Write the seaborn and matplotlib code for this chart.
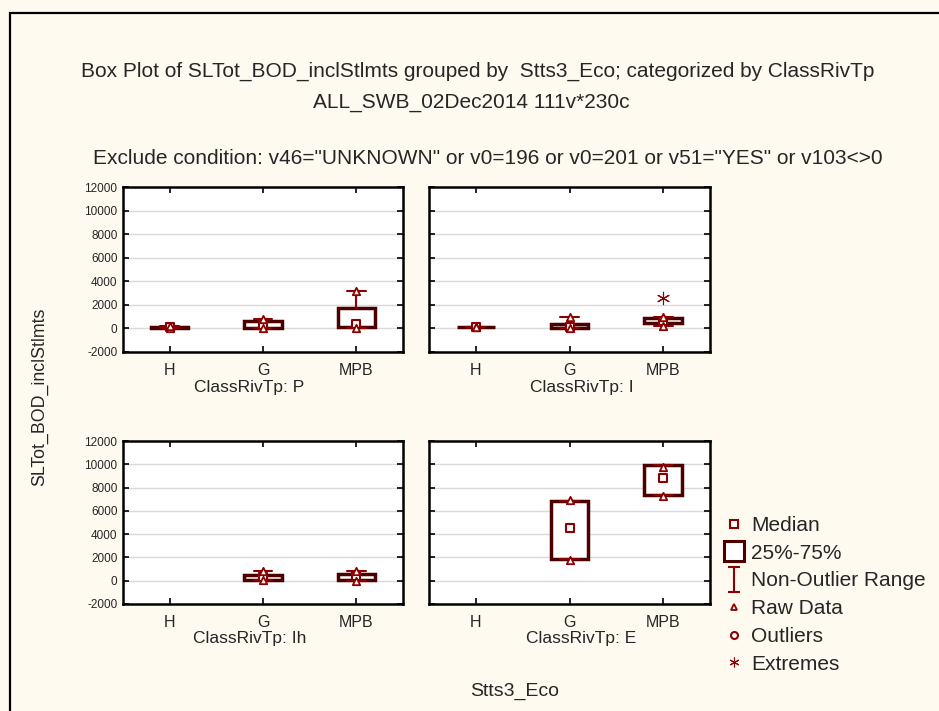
import numpy as np
import matplotlib
matplotlib.use('Agg')
import matplotlib.pyplot as plt
import seaborn as sns
import pandas as pd
from matplotlib.lines import Line2D
from matplotlib.patches import Rectangle
from matplotlib.path import Path

# data (Statistica style box plot)
categories = ['H', 'G', 'MPB']
panels = ['P', 'I', 'Ih', 'E']
nan = np.nan
median = [[100, 300, 400], [100, 150, 650], [nan, 300, 400], [nan, 4500, 8800]]
q1 = [[20, 30, 100], [80, 20, 480], [nan, 100, 50], [nan, 1850, 7350]]
q3 = [[150, 600, 1735], [130, 350, 860], [nan, 520, 580], [nan, 6850, 9950]]
whis_lo = [[0, 0, 0], [80, 0, 200], [nan, 50, 0], [nan, 1850, 7350]]
whis_hi = [[200, 800, 3150], [130, 950, 950], [nan, 800, 850], [nan, 6850, 9950]]
raw_min = [[0, 0, 0], [80, 0, 200], [nan, 50, 0], [nan, 1800, 7300]]
raw_max = [[200, 800, 3150], [130, 950, 950], [nan, 800, 850], [nan, 6900, 9800]]
extremes = [[], [], [], []]
extremes[1] = [('MPB', 2550)]

yticks = list(range(-2000, 12001, 2000))

box_col = '#4d0000'
red = '#8b0000'
bg = '#fffaf0'

sns.set_style('ticks')
plt.rcParams['font.family'] = ['Liberation Sans', 'DejaVu Sans']

fig = plt.figure(figsize=(9.39, 7.11), dpi=100, facecolor=bg)
W, H = 939, 711


def ax_rect(x0, y0, x1, y1):
    return [x0 / W, 1 - y1 / H, (x1 - x0) / W, (y1 - y0) / H]


rects = [ax_rect(123, 187, 403, 352), ax_rect(429, 187, 710, 352),
         ax_rect(123, 441, 403, 604), ax_rect(429, 441, 710, 604)]
title_pos = [(249, 388), (582, 388), (250, 638), (581, 638)]

asterisk = (6, 2, 0)

for i, p in enumerate(panels):
    ax = fig.add_axes(rects[i])
    ax.set_facecolor('white')
    stats, pos = [], []
    for j, c in enumerate(categories):
        if np.isnan(median[i][j]):
            continue
        stats.append(dict(med=median[i][j], q1=q1[i][j], q3=q3[i][j],
                          whislo=whis_lo[i][j], whishi=whis_hi[i][j], fliers=[]))
        pos.append(j)
    ax.bxp(stats, positions=pos, widths=0.4, capwidths=0.2, showfliers=False,
           patch_artist=True,
           boxprops=dict(facecolor='white', edgecolor=box_col, linewidth=2.5),
           whiskerprops=dict(color=red, linewidth=1.5),
           capprops=dict(color=red, linewidth=1.5),
           medianprops=dict(visible=False), zorder=3)

    med_df = pd.DataFrame({'x': pos, 'y': [median[i][j] for j in pos]})
    sns.scatterplot(data=med_df, x='x', y='y', marker='s', s=30, color='white',
                    edgecolor=red, linewidth=1.5, ax=ax, zorder=5)
    raw_df = pd.DataFrame({'x': pos + pos,
                           'y': [raw_min[i][j] for j in pos] + [raw_max[i][j] for j in pos]})
    sns.scatterplot(data=raw_df, x='x', y='y', marker='^', s=28, color='white',
                    edgecolor=red, linewidth=1.3, ax=ax, zorder=6)
    if extremes[i]:
        ex_df = pd.DataFrame({'x': [categories.index(c) for c, v in extremes[i]],
                              'y': [v for c, v in extremes[i]]})
        sns.scatterplot(data=ex_df, x='x', y='y', marker=asterisk, s=80, color=red,
                        linewidth=0.8, ax=ax, zorder=6)

    ax.set_xlim(-0.5, 2.5)
    ax.set_ylim(-2000, 12000)
    ax.set_xticks(range(len(categories)))
    ax.set_xticklabels(categories, fontsize=11.5)
    ax.set_yticks(yticks)
    if i % 2 == 0:
        ax.set_yticklabels([str(t) for t in yticks], fontsize=8.5)
    else:
        ax.set_yticklabels([])
    ax.yaxis.grid(True, color='#d9d9d9', linewidth=1)
    ax.set_axisbelow(True)
    ax.tick_params(direction='in', top=True, right=True, length=4, width=1.2,
                   color='black', pad=8)
    ax.tick_params(axis='y', pad=4)
    for s in ax.spines.values():
        s.set_linewidth(1.8)
        s.set_color('black')
    ax.set_xlabel('')
    ax.set_ylabel('')
    tx, ty = title_pos[i]
    fig.text(tx / W, 1 - ty / H, 'ClassRivTp: ' + p, ha='center', va='center', fontsize=12.5)

fig.text(478 / W, 1 - 71 / H,
         'Box Plot of SLTot_BOD_inclStlmts grouped by  Stts3_Eco; categorized by ClassRivTp',
         ha='center', va='center', fontsize=15)
fig.text(471 / W, 1 - 102 / H, 'ALL_SWB_02Dec2014 111v*230c', ha='center', va='center', fontsize=15)
fig.text(488 / W, 1 - 159 / H,
         'Exclude condition: v46="UNKNOWN" or v0=196 or v0=201 or v51="YES" or v103<>0',
         ha='center', va='center', fontsize=15)
fig.text(40 / W, 1 - 397 / H, 'SLTot_BOD_inclStlmts', rotation=90, ha='center', va='center', fontsize=12.8)
fig.text(515 / W, 1 - 691 / H, 'Stts3_Eco', ha='center', va='center', fontsize=14)

# I-beam marker for the non-outlier range
ibeam = Path([(-0.5, 1), (0.5, 1), (0, 1), (0, -1), (-0.5, -1), (0.5, -1)],
             [Path.MOVETO, Path.LINETO, Path.MOVETO, Path.LINETO, Path.MOVETO, Path.LINETO])
handles = [
    Line2D([], [], ls='none', marker='s', ms=6, mfc='white', mec=red, mew=1.5),
    Line2D([], [], ls='none', marker='s', ms=15, mfc='white', mec=box_col, mew=2.2),
    Line2D([], [], ls='none', marker=ibeam, ms=18, mec=red, mew=1.5),
    Line2D([], [], ls='none', marker='^', ms=5, mfc='white', mec=red, mew=1.3),
    Line2D([], [], ls='none', marker='o', ms=5, mfc='white', mec=red, mew=1.5),
    Line2D([], [], ls='none', marker=asterisk, ms=7, mec=red, mew=0.8),
]
labels = ['Median', '25%-75%', 'Non-Outlier Range', 'Raw Data', 'Outliers', 'Extremes']
fig.legend(handles, labels, loc='upper left', bbox_to_anchor=(725 / W, 1 - 516 / H),
           frameon=False, fontsize=15, handlelength=0.9, handletextpad=0.35,
           labelspacing=0.42, borderpad=0, borderaxespad=0)

fig.add_artist(Rectangle((10 / W, -0.1), 1.2, 1.1 - 13 / H, transform=fig.transFigure,
                         fill=False, edgecolor='black', linewidth=1.6))

fig.savefig('out.png', dpi=100, facecolor=bg)
